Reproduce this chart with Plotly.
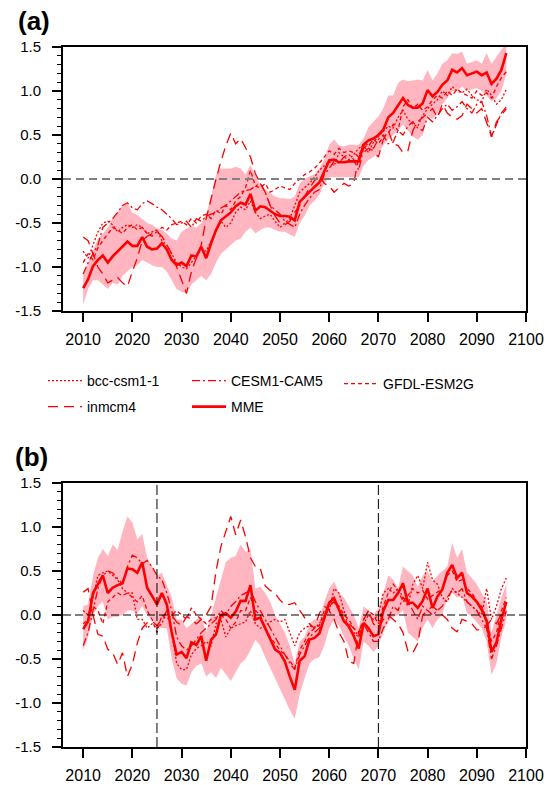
import plotly.graph_objects as go

# ---------------- data ----------------
years = list(range(2010, 2097))

# Panel (a)
a_mme = [-1.24, -1.14, -0.99, -0.92, -0.87, -0.95, -0.88, -0.82, -0.77, -0.71,
         -0.76, -0.76, -0.66, -0.77, -0.80, -0.79, -0.73, -0.80, -0.92, -0.98,
         -0.95, -0.99, -0.87, -0.88, -0.77, -0.90, -0.73, -0.58, -0.47, -0.43,
         -0.38, -0.31, -0.27, -0.29, -0.17, -0.36, -0.31, -0.32, -0.36, -0.40,
         -0.42, -0.42, -0.43, -0.47, -0.26, -0.20, -0.14, -0.09, -0.04, 0.08,
         0.21, 0.22, 0.19, 0.19, 0.20, 0.20, 0.20, 0.39, 0.44, 0.46,
         0.50, 0.56, 0.70, 0.75, 0.83, 0.92, 0.84, 0.81, 0.81, 0.86,
         1.01, 0.94, 0.99, 1.07, 1.12, 1.24, 1.21, 1.26, 1.18, 1.20,
         1.22, 1.18, 1.21, 1.08, 1.14, 1.24, 1.43]
a_upper = [-1.09, -0.95, -0.80, -0.68, -0.62, -0.55, -0.45, -0.38, -0.30, -0.28,
           -0.38, -0.41, -0.45, -0.50, -0.52, -0.56, -0.58, -0.62, -0.68, -0.70,
           -0.60, -0.56, -0.54, -0.55, -0.50, -0.40, -0.20, 0.05, 0.12, 0.12,
           0.12, 0.14, 0.12, 0.05, 0.16, 0.03, -0.06, -0.12, -0.16, -0.20,
           -0.22, -0.22, -0.23, -0.20, -0.05, 0.00, 0.03, 0.05, 0.12, 0.22,
           0.39, 0.45, 0.38, 0.37, 0.39, 0.39, 0.39, 0.46, 0.59, 0.65,
           0.71, 0.80, 0.95, 0.95, 1.09, 1.13, 1.11, 1.12, 1.13, 1.12,
           1.24, 1.12, 1.20, 1.31, 1.35, 1.43, 1.42, 1.45, 1.31, 1.33,
           1.35, 1.31, 1.43, 1.31, 1.39, 1.48, 1.55]
a_lower = [-1.43, -1.25, -1.15, -1.15, -1.20, -1.25, -1.18, -1.20, -1.10, -1.05,
           -1.00, -0.98, -0.92, -0.95, -0.98, -1.00, -1.00, -1.05, -1.15, -1.25,
           -1.28, -1.30, -1.20, -1.15, -1.10, -1.15, -1.08, -0.95, -0.85, -0.80,
           -0.75, -0.70, -0.68, -0.60, -0.55, -0.62, -0.58, -0.55, -0.55, -0.58,
           -0.60, -0.60, -0.63, -0.66, -0.50, -0.42, -0.30, -0.25, -0.18, -0.05,
           0.02, 0.02, 0.02, 0.02, 0.02, 0.02, 0.02, 0.15, 0.22, 0.25,
           0.30, 0.38, 0.45, 0.50, 0.55, 0.62, 0.55, 0.48, 0.45, 0.50,
           0.72, 0.68, 0.75, 0.85, 0.92, 1.00, 1.00, 1.05, 1.00, 1.02,
           1.03, 1.00, 0.95, 0.88, 0.92, 1.00, 1.20]
a_bcc = [-0.82, -0.90, -0.75, -0.60, -0.50, -0.48, -0.52, -0.60, -0.55, -0.52,
         -0.55, -0.52, -0.55, -0.62, -0.60, -0.58, -0.70, -0.75, -0.85, -0.95,
         -1.00, -1.02, -0.95, -0.88, -0.80, -0.82, -0.70, -0.60, -0.48, -0.55,
         -0.50, -0.38, -0.32, -0.35, -0.25, -0.38, -0.45, -0.42, -0.40, -0.48,
         -0.55, -0.50, -0.45, -0.30, -0.15, -0.10, -0.05, 0.02, 0.10, 0.15,
         0.20, 0.15, 0.30, 0.25, 0.22, 0.28, 0.35, 0.38, 0.30, 0.42,
         0.48, 0.55, 0.60, 0.58, 0.70, 0.78, 0.68, 0.62, 0.60, 0.72,
         0.80, 0.85, 0.90, 1.00, 0.95, 1.05, 1.00, 0.98, 1.02, 0.95,
         0.90, 0.88, 1.02, 0.95, 0.85, 0.90, 1.02]
a_cesm = [-1.08, -0.95, -0.85, -0.75, -0.55, -0.50, -0.45, -0.38, -0.30, -0.27,
          -0.33, -0.35, -0.28, -0.25, -0.28, -0.32, -0.35, -0.40, -0.45, -0.52,
          -0.50, -0.48, -0.55, -0.45, -0.48, -0.42, -0.40, -0.38, -0.33, -0.30,
          -0.25, -0.20, -0.15, -0.13, -0.12, -0.08, -0.05, -0.15, -0.30, -0.35,
          -0.40, -0.48, -0.52, -0.55, -0.40, -0.30, -0.22, -0.15, -0.12, 0.05,
          0.12, 0.20, 0.18, 0.25, 0.28, 0.22, 0.10, 0.35, 0.40, 0.35,
          0.45, 0.50, 0.40, 0.42, 0.55, 0.50, 0.60, 0.65, 0.58, 0.55,
          0.70, 0.65, 0.72, 0.80, 0.85, 0.78, 0.82, 0.88, 0.80, 0.75,
          0.85, 0.88, 0.72, 0.48, 0.62, 0.75, 0.82]
a_gfdl = [-0.95, -0.85, -0.92, -0.78, -0.70, -0.62, -0.55, -0.58, -0.62, -0.55,
          -0.52, -0.58, -0.55, -0.62, -0.65, -0.60, -0.55, -0.58, -0.52, -0.50,
          -0.48, -0.52, -0.45, -0.50, -0.42, -0.40, -0.45, -0.35, -0.40, -0.30,
          -0.35, -0.25, -0.20, -0.10, 0.10, -0.08, -0.10, -0.05, -0.15, -0.12,
          -0.08, -0.10, -0.12, -0.05, 0.00, 0.05, 0.08, 0.12, 0.18, 0.25,
          0.32, 0.28, 0.35, 0.30, 0.32, 0.30, 0.25, 0.42, 0.38, 0.45,
          0.40, 0.48, 0.52, 0.62, 0.55, 0.82, 0.90, 0.80, 0.85, 0.78,
          0.82, 0.90, 0.95, 0.92, 1.00, 0.95, 1.02, 0.98, 0.95, 0.92,
          1.00, 0.95, 0.98, 0.92, 1.05, 1.15, 1.22]
a_inm = [-0.66, -0.70, -0.85, -1.00, -1.08, -1.18, -1.15, -1.12, -1.18, -1.22,
         -1.05, -0.90, -0.70, -0.65, -0.62, -0.60, -0.65, -0.75, -0.85, -1.00,
         -1.15, -1.30, -1.05, -0.90, -0.75, -0.45, -0.22, 0.00, 0.20, 0.38,
         0.52, 0.40, 0.46, 0.35, 0.25, 0.06, -0.05, -0.15, -0.30, -0.42,
         -0.50, -0.52, -0.48, -0.38, -0.30, -0.20, -0.10, -0.02, 0.05, -0.05,
         -0.08, -0.15, -0.10, -0.05, -0.08, -0.05, 0.25, 0.30, 0.35, 0.32,
         0.25, 0.45, 0.55, 0.40, 0.38, 0.30, 0.32, 0.55, 0.65, 0.70,
         0.75, 0.80, 0.70, 0.85, 0.75, 0.70, 0.68, 0.72, 0.85, 0.80,
         0.75, 0.80, 0.65, 0.48, 0.65, 0.72, 0.80]

# Panel (b)
b_mme = [-0.16, -0.07, 0.25, 0.35, 0.45, 0.25, 0.31, 0.34, 0.36, 0.53,
         0.52, 0.48, 0.60, 0.31, 0.22, 0.12, 0.25, 0.12, -0.20, -0.45,
         -0.42, -0.49, -0.31, -0.34, -0.24, -0.52, -0.28, -0.22, 0.00, 0.02,
         -0.03, 0.04, 0.16, 0.16, 0.34, -0.05, -0.03, -0.15, -0.28, -0.39,
         -0.43, -0.53, -0.70, -0.85, -0.52, -0.47, -0.28, -0.26, -0.21, -0.02,
         0.14, 0.19, 0.06, -0.07, -0.13, -0.24, -0.38, -0.09, -0.15, -0.24,
         -0.22, 0.05, 0.17, 0.17, 0.25, 0.36, 0.14, 0.14, 0.08, 0.16,
         0.30, 0.08, 0.21, 0.29, 0.48, 0.57, 0.42, 0.48, 0.25, 0.21,
         0.15, 0.06, -0.07, -0.42, -0.31, -0.05, 0.15]
b_upper = [0.10, 0.12, 0.45, 0.65, 0.75, 0.67, 0.80, 0.74, 0.95, 1.12,
           1.05, 0.86, 0.92, 0.65, 0.55, 0.45, 0.48, 0.35, 0.20, -0.05,
           -0.05, -0.15, -0.10, -0.05, -0.02, -0.20, 0.00, 0.20, 0.40, 0.60,
           0.65, 0.67, 0.80, 0.72, 0.75, 0.30, 0.32, 0.25, 0.15, 0.00,
           -0.10, -0.20, -0.35, -0.55, -0.30, -0.25, -0.10, -0.05, -0.05, 0.15,
           0.30, 0.38, 0.25, 0.20, 0.10, 0.00, -0.15, 0.10, 0.05, 0.00,
           0.08, 0.25, 0.45, 0.40, 0.30, 0.55, 0.50, 0.45, 0.32, 0.45,
           0.50, 0.38, 0.45, 0.50, 0.55, 0.82, 0.65, 0.75, 0.48, 0.42,
           0.35, 0.25, 0.15, -0.20, 0.00, 0.20, 0.35]
b_lower = [-0.40, -0.25, 0.00, 0.10, 0.15, -0.05, -0.02, -0.02, 0.00, 0.05,
           0.05, 0.02, 0.10, 0.00, -0.05, -0.12, -0.15, -0.15, -0.50, -0.72,
           -0.78, -0.80, -0.65, -0.58, -0.55, -0.70, -0.65, -0.72, -0.60, -0.68,
           -0.75, -0.65, -0.55, -0.50, -0.40, -0.28, -0.35, -0.48, -0.60, -0.72,
           -0.85, -0.95, -1.08, -1.18, -0.90, -0.72, -0.55, -0.50, -0.48, -0.35,
           -0.15, -0.05, -0.12, -0.25, -0.35, -0.50, -0.62, -0.30, -0.35, -0.42,
           -0.35, -0.20, -0.08, -0.02, 0.00, 0.05, -0.20, -0.25, -0.30, -0.15,
           -0.05, -0.15, -0.05, 0.00, 0.20, 0.25, 0.20, 0.22, 0.02, -0.02,
           -0.08, -0.15, -0.30, -0.68, -0.55, -0.25, -0.05]
b_bcc = [0.05, 0.00, 0.20, 0.45, 0.48, 0.50, 0.45, 0.40, 0.30, 0.25,
         0.25, -0.05, -0.05, -0.15, -0.10, -0.15, -0.10, 0.05, -0.20, -0.55,
         -0.62, -0.62, -0.45, -0.38, -0.35, -0.30, -0.35, -0.10, -0.05, -0.25,
         -0.15, -0.12, -0.10, -0.08, 0.05, -0.10, -0.15, -0.12, -0.08, -0.05,
         -0.08, -0.05, -0.20, -0.35, -0.20, -0.15, -0.12, -0.15, -0.10, 0.00,
         0.05, 0.30, 0.25, 0.05, -0.15, -0.20, -0.25, -0.10, 0.00, -0.05,
         0.00, 0.25, 0.30, 0.25, 0.30, 0.20, 0.10, 0.35, 0.45, 0.30,
         0.60, 0.40, 0.35, 0.20, 0.15, 0.30, 0.25, 0.20, 0.15, 0.10,
         0.05, 0.00, 0.30, -0.05, 0.10, 0.30, 0.42]
b_cesm = [-0.35, -0.20, 0.05, 0.30, 0.45, 0.50, 0.48, 0.42, 0.35, 0.55,
          0.68, 0.65, 0.58, 0.62, 0.55, 0.45, 0.40, 0.25, 0.05, -0.25,
          -0.35, -0.40, -0.35, -0.28, -0.20, -0.15, -0.10, -0.05, 0.05, 0.00,
          0.10, 0.15, 0.22, 0.25, 0.28, 0.15, 0.05, -0.05, -0.15, -0.25,
          -0.35, -0.45, -0.55, -0.62, -0.45, -0.35, -0.25, -0.20, -0.15, -0.05,
          0.10, 0.15, 0.05, -0.05, -0.10, -0.15, -0.25, -0.10, -0.20, -0.30,
          -0.30, -0.15, -0.05, 0.10, 0.05, 0.20, 0.15, 0.05, -0.05, 0.10,
          0.05, 0.00, 0.05, 0.10, 0.20, 0.28, 0.25, 0.30, 0.15, 0.10,
          0.05, -0.05, -0.15, -0.50, -0.35, -0.15, 0.05]
b_gfdl = [-0.10, -0.05, 0.10, 0.05, -0.10, 0.15, 0.20, 0.25, 0.22, 0.25,
          0.20, 0.15, 0.22, 0.05, -0.05, -0.20, 0.00, -0.05, 0.00, 0.05,
          0.00, -0.05, 0.08, 0.00, -0.05, -0.10, -0.05, -0.03, 0.00, -0.05,
          -0.15, -0.08, 0.05, 0.05, 0.20, 0.05, 0.00, -0.15, -0.25, -0.32,
          -0.40, -0.45, -0.52, -0.60, -0.40, -0.30, -0.20, -0.15, -0.12, 0.05,
          0.10, 0.15, 0.10, 0.00, -0.05, -0.15, -0.20, -0.05, 0.05, 0.00,
          -0.10, 0.10, 0.25, 0.35, 0.28, 0.15, 0.22, 0.30, 0.25, 0.28,
          0.18, 0.22, 0.25, 0.30, 0.45, 0.50, 0.38, 0.40, 0.30, 0.25,
          0.15, 0.10, -0.05, -0.30, -0.20, 0.05, 0.20]
b_inm = [0.26, 0.30, 0.00, -0.22, -0.24, -0.39, -0.43, -0.56, -0.43, -0.70,
         -0.56, -0.32, -0.15, -0.09, -0.07, -0.12, -0.05, 0.05, 0.00, -0.08,
         -0.12, -0.02, -0.05, -0.10, -0.05, 0.00, 0.10, 0.50, 0.78, 0.95,
         1.12, 0.91, 1.08, 0.89, 0.65, 0.55, 0.53, 0.33, 0.28, 0.25,
         0.17, 0.12, 0.12, 0.14, 0.05, -0.03, -0.10, -0.15, 0.02, 0.10,
         0.05, -0.05, -0.20, -0.30, -0.53, -0.55, -0.20, -0.05, 0.05, -0.10,
         -0.15, -0.05, 0.00, -0.05, -0.10, -0.20, -0.41, -0.43, -0.32, 0.00,
         0.05, 0.10, 0.05, 0.00, -0.05, -0.15, -0.19, -0.05, -0.07, -0.10,
         -0.17, -0.17, -0.12, -0.05, -0.10, 0.02, 0.02]

model_names = ["bcc-csm1-1", "CESM1-CAM5", "GFDL-ESM2G", "inmcm4", "MME"]
x_ticks = [2010, 2020, 2030, 2040, 2050, 2060, 2070, 2080, 2090, 2100]
x_tick_text = [str(v) for v in x_ticks]
y_ticks = [-1.5, -1.0, -0.5, 0.0, 0.5, 1.0, 1.5]
y_tick_text = ["-1.5", "-1.0", "-0.5", "0.0", "0.5", "1.0", "1.5"]
y_minor = [round(-1.5 + 0.1 * i, 1) for i in range(31)]
x_range = [2005.9, 2100]
y_range = [-1.5, 1.5]
zero_line = [0.0]
split_years = [2025, 2070]

# ---------------- style ----------------
RED = "#ff0000"
PINK = "rgb(255,182,193)"
FONT = "Liberation Sans, Arial, Helvetica, sans-serif"
dash_styles = {
    "bcc-csm1-1": "2px,2px",
    "CESM1-CAM5": "8px,3px,2px,3px",
    "GFDL-ESM2G": "4px,3px",
    "inmcm4": "10px,6px",
}
legend_ids = {"bcc-csm1-1": "legend", "CESM1-CAM5": "legend2", "GFDL-ESM2G": "legend3",
              "inmcm4": "legend4", "MME": "legend5"}

fig = go.Figure()

panels = [
    ("x", "y", a_lower, a_upper, [a_bcc, a_cesm, a_gfdl, a_inm], a_mme, True),
    ("x2", "y2", b_lower, b_upper, [b_bcc, b_cesm, b_gfdl, b_inm], b_mme, False),
]
for xa, ya, lo, up, models, mme, show in panels:
    fig.add_trace(go.Scatter(x=years, y=lo, mode="lines", line=dict(width=0, color=PINK),
                             showlegend=False, hoverinfo="skip", xaxis=xa, yaxis=ya))
    fig.add_trace(go.Scatter(x=years, y=up, mode="lines", line=dict(width=0, color=PINK),
                             fill="tonexty", fillcolor=PINK, showlegend=False,
                             hoverinfo="skip", xaxis=xa, yaxis=ya))
    for name, vals in zip(model_names[:4], models):
        fig.add_trace(go.Scatter(x=years, y=vals, mode="lines", name=name,
                                 line=dict(color=RED, width=1.3, dash=dash_styles[name]),
                                 showlegend=show, legend=legend_ids[name],
                                 xaxis=xa, yaxis=ya))
    fig.add_trace(go.Scatter(x=years, y=mme, mode="lines", name="MME",
                             line=dict(color=RED, width=2.6),
                             showlegend=show, legend=legend_ids["MME"],
                             xaxis=xa, yaxis=ya))

W, H = 552, 785
x_dom = [63 / W, 526 / W]
ya_dom = [1 - 311 / H, 1 - 47 / H]
yb_dom = [1 - 747 / H, 1 - 483 / H]

xaxis_style = dict(range=x_range, tickmode="array", tickvals=x_ticks, ticktext=x_tick_text,
                   showline=True, linecolor="black", linewidth=2, mirror=True,
                   ticks="outside", ticklen=9, tickwidth=1.6, tickcolor="black",
                   showgrid=False, zeroline=False, automargin=False, ticklabelstandoff=4,
                   tickfont=dict(family=FONT, size=16, color="black"))
yaxis_style = dict(range=y_range, tickmode="array", tickvals=y_ticks, ticktext=y_tick_text,
                   showline=True, linecolor="black", linewidth=2, mirror=True,
                   ticks="outside", ticklen=9, tickwidth=1.6, tickcolor="black",
                   minor=dict(tickmode="array", tickvals=y_minor, ticks="outside", ticklen=4,
                              tickwidth=1.2, tickcolor="black", showgrid=False),
                   showgrid=False, zeroline=False, automargin=False, ticklabelstandoff=8,
                   tickfont=dict(family=FONT, size=15, color="black"))

fig.update_layout(
    template="none",
    width=W, height=H, autosize=False,
    margin=dict(l=0, r=0, t=0, b=0, pad=0),
    paper_bgcolor="white", plot_bgcolor="white",
    font=dict(family=FONT, color="black"),
    xaxis=dict(domain=x_dom, anchor="y", **xaxis_style),
    yaxis=dict(domain=ya_dom, anchor="x", **yaxis_style),
    xaxis2=dict(domain=x_dom, anchor="y2", **xaxis_style),
    yaxis2=dict(domain=yb_dom, anchor="x2", **yaxis_style),
)

leg_common = dict(xanchor="left", yanchor="middle", bgcolor="rgba(0,0,0,0)",
                  font=dict(family=FONT, size=14, color="black"), itemwidth=34,
                  orientation="h", borderwidth=0)
leg_pos = {"legend": (43, 381), "legend2": (187, 381), "legend3": (339, 384),
           "legend4": (43, 407), "legend5": (187, 407)}
for lid, (px, py) in leg_pos.items():
    fig.update_layout({lid: dict(x=px / W, y=1 - py / H, **leg_common)})

# reference lines
fig.add_shape(type="line", xref="x domain", yref="y", x0=0, x1=1, y0=zero_line[0], y1=zero_line[0],
              line=dict(color="#808080", width=2, dash="8px,5px"), layer="above")
fig.add_shape(type="line", xref="x2 domain", yref="y2", x0=0, x1=1, y0=zero_line[0], y1=zero_line[0],
              line=dict(color="black", width=1, dash="8px,4px"), layer="above")
for yr in split_years:
    fig.add_shape(type="line", xref="x2", yref="y2 domain", x0=yr, x1=yr, y0=0, y1=1,
                  line=dict(color="black", width=1, dash="10px,4px"), layer="above")

fig.add_annotation(text="<b>(a)</b>", xref="paper", yref="paper", x=16 / W, y=1 - 21 / H,
                   xanchor="left", yanchor="middle", showarrow=False,
                   font=dict(family=FONT, size=26, color="black"))
fig.add_annotation(text="<b>(b)</b>", xref="paper", yref="paper", x=13 / W, y=1 - 457 / H,
                   xanchor="left", yanchor="middle", showarrow=False,
                   font=dict(family=FONT, size=26, color="black"))

fig.write_html("out.html")
